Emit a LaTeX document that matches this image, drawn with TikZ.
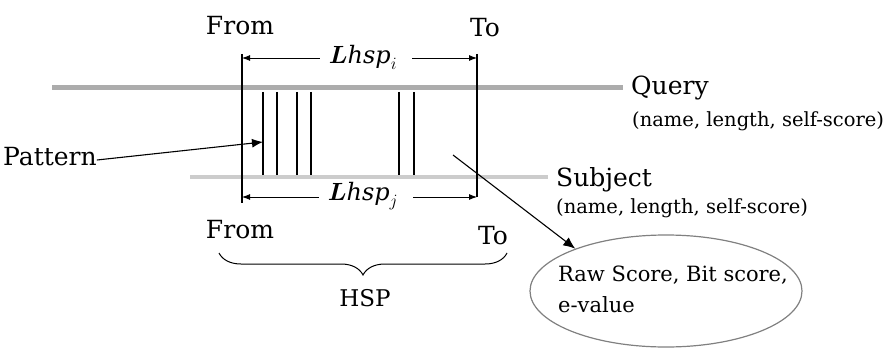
\documentclass[tikz,border=0pt]{standalone}
\usepackage{fontspec}
\setmainfont{DejaVu Serif}
\usepackage{amsmath,bm}
\usetikzlibrary{arrows.meta,shapes.geometric,decorations.pathreplacing}
\begin{document}
\begin{tikzpicture}[x=1pt,y=-1pt,
  lbl/.style={inner sep=0pt,font=\fontsize{25}{27}\selectfont},
  small/.style={inner sep=0pt,font=\fontsize{19.5}{22}\selectfont},
  qbar/.style={line width=5pt,gray!65},
  sbar/.style={line width=4pt,gray!40},
  tick/.style={line width=1.1pt,black},
  dim/.style={line width=0.9pt,-{Latex[length=8pt,width=6pt]}},
  ptr/.style={line width=1.1pt,-{Latex[length=12pt,width=10pt]}}]
\useasboundingbox (0,0) rectangle (890,350);
% bars
\coordinate (q1) at (52,88);
\coordinate (q2) at (623,88);
\coordinate (s1) at (190,177);
\coordinate (s2) at (548,177);
\draw[qbar] (q1) -- (q2);
\draw[sbar] (s1) -- (s2);
% labels
\node[lbl] (fromT) at (240,26) {From};
\node[lbl] (toT) at (485,28) {To};
\node[lbl,anchor=west] (query) at (631,88) {Query};
\node[small,anchor=west] (qinfo) at (632,121) {(name, length, self-score)};
\node[lbl,anchor=west] (subject) at (556,180) {Subject};
\node[small,anchor=west] (sinfo) at (556,208) {(name, length, self-score)};
\node[lbl,anchor=west] (pattern) at (3,157) {Pattern};
\node[lbl] (fromB) at (240,230) {From};
\node[lbl] (toB) at (493,236) {To};
\node[lbl,font=\fontsize{23}{25}\selectfont] (hsp) at (365,298) {HSP};
\node[inner sep=1pt,font=\fontsize{24}{26}\selectfont] (lhi) at (363,57) {$\bm{L}\mathit{hsp}_{i}$};
\node[inner sep=1pt,font=\fontsize{24}{26}\selectfont] (lhj) at (363,196) {$\bm{L}\mathit{hsp}_{j}$};
% main verticals
\coordinate (l1) at (242,54);
\coordinate (l2) at (242,203);
\coordinate (r1) at (477,54);
\coordinate (r2) at (477,197);
\draw[tick] (l1) -- (l2);
\draw[tick] (r1) -- (r2);
% pattern lines
\foreach \x/\n in {263/a,277/b,297/c,311/d,399/e,414/f}{
  \coordinate (\n1) at (\x,92);
  \coordinate (\n2) at (\x,175);
  \draw[tick] (\n1) -- (\n2);
}
% dimension arrows
\coordinate (dtl) at (242,58);
\coordinate (dtr) at (477,58);
\coordinate (dbl) at (242,197);
\coordinate (dbr) at (477,197);
\draw[dim] (lhi.west) ++(-8,1) -- (dtl);
\draw[dim] (lhi.east) ++(14,1) -- (dtr);
\draw[dim] (lhj.west) ++(-8,1) -- (dbl);
\draw[dim] (lhj.east) ++(14,1) -- (dbr);
% pattern pointer
\coordinate (pt) at (263,142);
\draw[line width=1.1pt,-{Latex[length=11pt,width=9pt]}] (pattern.east) ++(0,3) -- (pt);
% brace
\coordinate (b1) at (219,253);
\coordinate (b2) at (507,253);
\draw[line width=1pt,decorate,decoration={brace,mirror,amplitude=22pt,aspect=0.5}] (b1) -- (b2);
% result ellipse
\node[ellipse,draw=gray,line width=1.2pt,minimum width=272pt,minimum height=112pt,
  align=left,inner xsep=-40pt,inner ysep=0pt,font=\fontsize{21}{30}\selectfont] (res) at (666,291)
  {\raisebox{-8pt}{\hspace*{14pt}\begin{tabular}{@{}l@{}}Raw Score, Bit score,\\[1pt]e-value\end{tabular}}};
\coordinate (rs) at (453,155);
\draw[ptr] (rs) -- (res.155);
\end{tikzpicture}
\end{document}
